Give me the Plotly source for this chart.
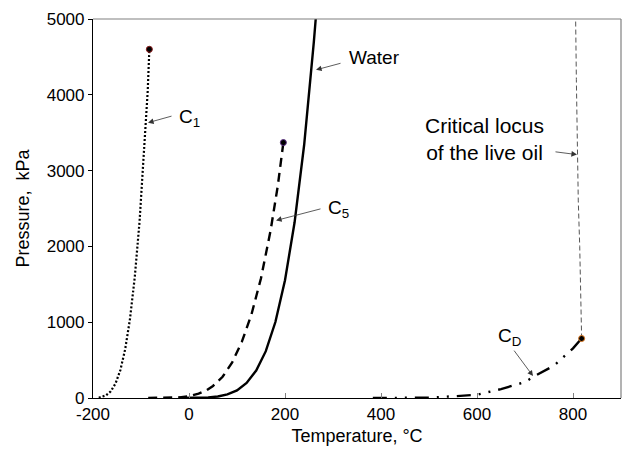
import plotly.graph_objects as go

# ---- data ----
c1_T = [-188, -182, -173, -163, -153, -143, -133, -123, -113, -103, -93, -86, -82.6]
c1_P = [3, 12, 34, 88, 192, 368, 642, 1041, 1593, 2329, 3283, 4050, 4600]

c5_T = [-85, -50, -20, 0, 20, 36, 50, 70, 90, 110, 130, 150, 170, 185, 196.6]
c5_P = [0, 2, 9, 24, 57, 101, 159, 280, 470, 740, 1100, 1580, 2210, 2800, 3370]

w_T = [-20, 0, 20, 40, 60, 80, 100, 120, 140, 160, 180, 200, 220, 240, 260, 264]
w_P = [0, 1, 2, 7, 20, 47, 101, 199, 362, 618, 1002, 1554, 2318, 3344, 4692, 5000]

cd_T = [383, 450, 500, 550, 600, 650, 700, 720, 760, 800, 818]
cd_P = [0, 2, 5, 22, 43, 118, 210, 290, 425, 655, 785]

loc_T = [818, 817, 814, 811, 809, 807, 805.5]
loc_P = [785, 1200, 2000, 2600, 3200, 4200, 5000]

crit_T = [-82.6, 196.6, 818]
crit_P = [4600, 3370, 785]
crit_edge = ["#8b1a1a", "#5a2d82", "#e07a20"]

x_ticks = [-200, 0, 200, 400, 600, 800]
y_ticks = [0, 1000, 2000, 3000, 4000, 5000]

FONT = "Liberation Sans, Arial, sans-serif"

fig = go.Figure()
fig.add_trace(go.Scatter(x=loc_T, y=loc_P, mode="lines",
                         line=dict(color="#555555", width=1, dash="5px,3px")))
fig.add_trace(go.Scatter(x=c1_T, y=c1_P, mode="lines",
                         line=dict(color="black", width=2.2, dash="2px,2px")))
fig.add_trace(go.Scatter(x=c5_T, y=c5_P, mode="lines",
                         line=dict(color="black", width=2.4, dash="9px,6px")))
fig.add_trace(go.Scatter(x=w_T, y=w_P, mode="lines",
                         line=dict(color="black", width=2.4)))
fig.add_trace(go.Scatter(x=cd_T, y=cd_P, mode="lines",
                         line=dict(color="black", width=2.4,
                                   dash="14px,8px,2px,8px,2px,8px")))
fig.add_trace(go.Scatter(x=crit_T, y=crit_P, mode="markers",
                         marker=dict(color="black", size=6,
                                     line=dict(color=crit_edge, width=1))))

annots = []
def arrow(hx, hy, tx, ty):
    annots.append(dict(x=hx, y=hy, ax=tx, ay=ty, axref="x", ayref="y",
                       xref="x", yref="y", text="", showarrow=True,
                       arrowhead=2, arrowsize=1.4, arrowwidth=0.8,
                       arrowcolor="#333333"))

def label(x, y, text, size=19, xanchor="left", align="left"):
    annots.append(dict(x=x, y=y, xref="x", yref="y", text=text,
                       showarrow=False, xanchor=xanchor, yanchor="middle",
                       align=align, font=dict(family=FONT, size=size, color="black")))

arrow(264.6, 4329, 318.8, 4421)
label(329, 4487, "Water")
arrow(-85.4, 3632, -33.3, 3724)
label(-24, 3700, "C<sub>1</sub>")
arrow(181.3, 2342, 277, 2500)
label(286, 2490, "C<sub>5</sub>")
arrow(716.7, 289, 675, 645)
label(640, 800, "C<sub>D</sub>")
arrow(808.3, 3211, 760.4, 3250)
label(744, 3414, "Critical locus<br>of the live oil", size=21, xanchor="right", align="center")

shapes = [
    dict(type="line", xref="x domain", yref="y domain", x0=0, x1=1, y0=1, y1=1,
         line=dict(color="#808080", width=1.2)),
    dict(type="line", xref="x domain", yref="y domain", x0=1, x1=1, y0=0, y1=1,
         line=dict(color="#808080", width=1.2)),
]

fig.update_layout(
    width=624, height=453,
    margin=dict(l=93, r=3, t=19, b=55),
    paper_bgcolor="white", plot_bgcolor="white",
    showlegend=False,
    font=dict(family=FONT, size=17, color="black"),
    annotations=annots, shapes=shapes,
    xaxis=dict(range=[-200, 900], tickvals=x_ticks, ticktext=[str(v) for v in x_ticks],
               showgrid=False, zeroline=False, showline=True, linecolor="black",
               linewidth=1.2, ticks="inside", ticklen=5, tickcolor="#808080",
               tickfont=dict(family=FONT, size=17),
               title=dict(text="Temperature, °C", font=dict(family=FONT, size=18),
                          standoff=6)),
    yaxis=dict(range=[0, 5000], tickvals=y_ticks, ticktext=[str(v) for v in y_ticks],
               showgrid=False, zeroline=False, showline=True, linecolor="black",
               linewidth=1.2, ticks="outside", ticklen=4, tickcolor="black",
               tickfont=dict(family=FONT, size=17),
               title=dict(text="Pressure,  kPa", font=dict(family=FONT, size=18),
                          standoff=12)),
)

fig.write_html("out.html")
